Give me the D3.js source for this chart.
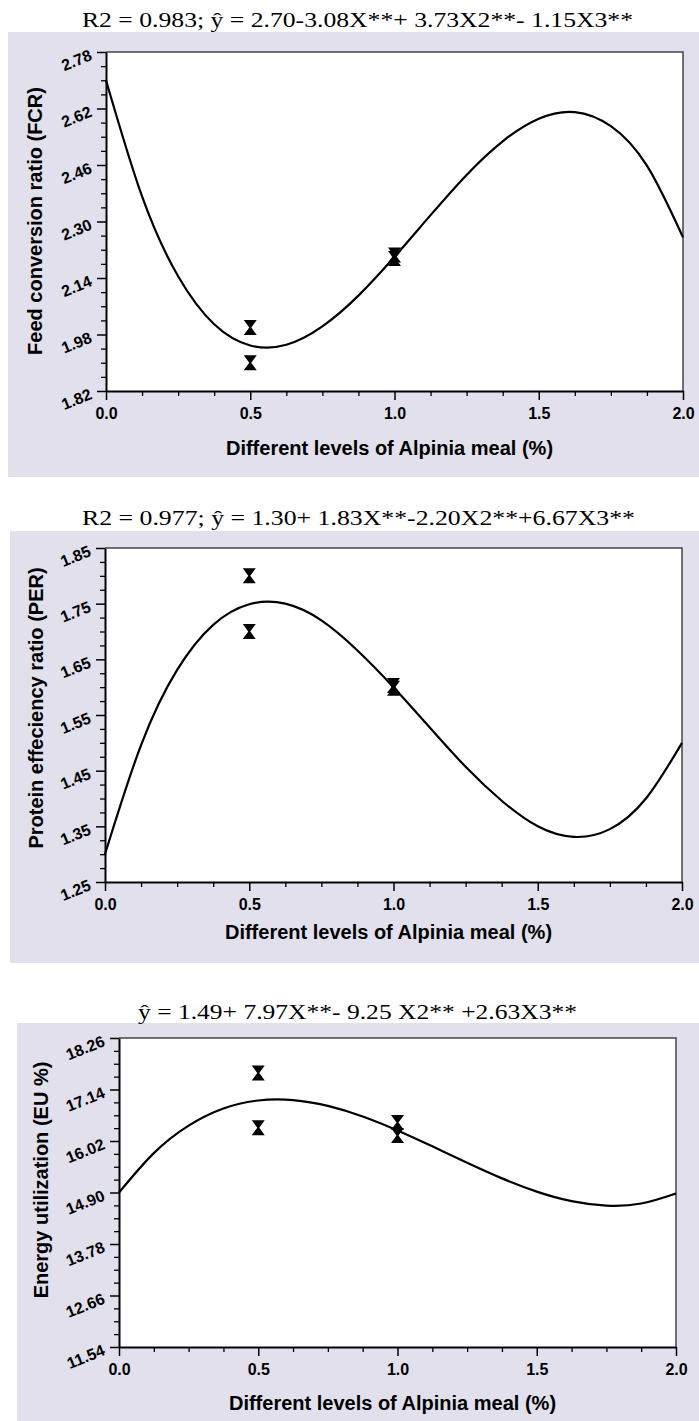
<!DOCTYPE html>
<html>
<head>
<meta charset="utf-8">
<script src="https://cdn.jsdelivr.net/npm/d3@7"></script>
<style>
  body { margin: 0; background: #ffffff; }
  text { fill: #000; }
</style>
</head>
<body>
<script>
// alpinia meal level (%) where the fitted curve was read
const curveX = [0, 0.125, 0.25, 0.375, 0.5, 0.625, 0.75, 0.875, 1.0, 1.125, 1.25, 1.375, 1.5, 1.625, 1.75, 1.875, 2.0];

// fitted curves
const fcrCurve = [2.700, 2.371, 2.145, 2.009, 1.949, 1.951, 2.003, 2.090, 2.200, 2.318, 2.432, 2.527, 2.591, 2.610, 2.570, 2.458, 2.255];
const perCurve = [1.300, 1.496, 1.631, 1.712, 1.749, 1.750, 1.720, 1.666, 1.600, 1.528, 1.457, 1.396, 1.350, 1.331, 1.345, 1.400, 1.500];
const euCurve = [14.900, 15.757, 16.355, 16.727, 16.901, 16.910, 16.784, 16.554, 16.250, 15.904, 15.546, 15.207, 14.919, 14.711, 14.615, 14.661, 14.880];

// observed points
const obsX = [0.5, 0.5, 1.0, 1.0];
const fcrObs = [2.00, 1.90, 2.205, 2.195];
const perObs = [1.80, 1.70, 1.603, 1.598];
const euObs = [17.50, 16.31, 16.42, 16.14];

// tick labels
const xTicks = [0, 0.5, 1.0, 1.5, 2.0];
const fcrTicks = [1.82, 1.98, 2.14, 2.30, 2.46, 2.62, 2.78];
const perTicks = [1.25, 1.35, 1.45, 1.55, 1.65, 1.75, 1.85];
const euTicks = [11.54, 12.66, 13.78, 14.90, 16.02, 17.14, 18.26];

const titles = [
    "R2 = 0.983;  \u0177 = 2.70-3.08X**+ 3.73X2**- 1.15X3**",
    "R2 = 0.977;  \u0177 = 1.30+ 1.83X**-2.20X2**+6.67X3**",
    "\u0177 = 1.49+ 7.97X**- 9.25 X2** +2.63X3**"
];
const yTitles = ["Feed conversion ratio (FCR)", "Protein effeciency ratio (PER)", "Energy utilization (EU %)"];
const xTitle = "Different levels of Alpinia meal (%)";

const svg = d3.select("body").append("svg").attr("width", 699).attr("height", 1421);

function drawPanel(p) {
    const g = svg.append("g");
    g.append("rect").attr("x", p.bg[0]).attr("y", p.bg[1]).attr("width", p.bg[2]).attr("height", p.bg[3]).attr("fill", "#e1e0ec");
    g.append("rect").attr("x", p.l).attr("y", p.t).attr("width", p.r - p.l).attr("height", p.b - p.t).attr("fill", "#fff");

    // title above the grey box
    g.append("text")
        .attr("x", p.titleX[0]).attr("y", p.titleY)
        .attr("textLength", p.titleX[1] - p.titleX[0]).attr("lengthAdjust", "spacingAndGlyphs")
        .attr("font-family", "'Liberation Serif', 'Times New Roman', serif").attr("font-size", 22)
        .text(p.title);

    const x = d3.scaleLinear().domain([0, 2]).range([p.l, p.r]);
    const y = d3.scaleLinear().domain([p.yTicks[0], p.yTicks[p.yTicks.length - 1]]).range([p.b, p.t]);

    // frame top/right
    g.append("path").attr("d", `M${p.l},${p.t}H${p.r}V${p.b}`).attr("fill", "none").attr("stroke", "#444").attr("stroke-width", 1.5);

    // minor ticks
    const yStep = (p.yTicks[1] - p.yTicks[0]) / 4;
    const yMinor = d3.range(1, (p.yTicks.length - 1) * 4).filter(i => i % 4 != 0).map(i => p.yTicks[0] + i * yStep);
    const xMinor = d3.range(1, 16).filter(i => i % 4 != 0).map(i => i * 0.125);
    g.append("g").attr("transform", `translate(${p.l},0)`)
        .call(d3.axisLeft(y).tickValues(yMinor).tickSize(5).tickFormat(""))
        .call(a => a.select(".domain").remove())
        .selectAll("line").attr("stroke", "#000").attr("stroke-width", 1.3);
    g.append("g").attr("transform", `translate(0,${p.b})`)
        .call(d3.axisBottom(x).tickValues(xMinor).tickSize(5).tickFormat(""))
        .call(a => a.select(".domain").remove())
        .selectAll("line").attr("stroke", "#000").attr("stroke-width", 1.3);

    // major y axis
    const ya = g.append("g").attr("transform", `translate(${p.l},0)`)
        .call(d3.axisLeft(y).tickValues(p.yTicks).tickSize(9).tickSizeOuter(0).tickFormat(d3.format(".2f")))
        .attr("font-family", "'Liberation Sans', Arial, sans-serif").attr("font-size", 16).attr("font-weight", "bold");
    ya.select(".domain").attr("stroke", "#000").attr("stroke-width", 2);
    ya.selectAll("line").attr("stroke", "#000").attr("stroke-width", 1.5);
    ya.selectAll("text")
        .attr("x", null).attr("dy", null)
        .attr("text-anchor", "end")
        .attr("transform", "translate(-13,7) rotate(-22)");

    // major x axis
    const xa = g.append("g").attr("transform", `translate(0,${p.b})`)
        .call(d3.axisBottom(x).tickValues(xTicks).tickSize(9).tickSizeOuter(0).tickFormat(d3.format(".1f")))
        .attr("font-family", "'Liberation Sans', Arial, sans-serif").attr("font-size", 16).attr("font-weight", "bold");
    xa.select(".domain").attr("stroke", "#000").attr("stroke-width", 2);
    xa.selectAll("line").attr("stroke", "#000").attr("stroke-width", 1.5);
    xa.selectAll("text").attr("y", 28).attr("dy", null);

    // axis titles
    g.append("text").attr("x", (p.l + p.r) / 2 - 5).attr("y", p.xTitleY).attr("text-anchor", "middle")
        .attr("font-family", "'Liberation Sans', Arial, sans-serif").attr("font-size", 20).attr("font-weight", "bold")
        .text(xTitle);
    g.append("text").attr("transform", `translate(${p.yTitleX},${p.yTitleMid}) rotate(-90)`).attr("text-anchor", "middle")
        .attr("font-family", "'Liberation Sans', Arial, sans-serif").attr("font-size", 20).attr("font-weight", "bold")
        .text(p.yTitle);

    // fitted curve
    const line = d3.line().x(d => x(d[0])).y(d => y(d[1])).curve(d3.curveNatural);
    g.append("path").datum(d3.zip(curveX, p.curve)).attr("d", line)
        .attr("fill", "none").attr("stroke", "#000").attr("stroke-width", 2.2);

    // hourglass markers
    g.selectAll(".pt").data(d3.zip(obsX, p.obs)).enter().append("path")
        .attr("class", "pt")
        .attr("transform", d => `translate(${x(d[0])},${y(d[1])})`)
        .attr("d", "M-6.5,-7.5H6.5L1,0L6.5,7.5H-6.5L-1,0Z")
        .attr("fill", "#000");
}

drawPanel({ bg: [8, 32, 691, 445], l: 106, t: 52, r: 683, b: 391, title: titles[0], titleX: [82, 633], titleY: 27,
    yTicks: fcrTicks, curve: fcrCurve, obs: fcrObs, yTitle: yTitles[0], yTitleX: 42, yTitleMid: 221, xTitleY: 455 });
drawPanel({ bg: [10, 531, 689, 432], l: 105, t: 548, r: 682, b: 882, title: titles[1], titleX: [82, 635], titleY: 525,
    yTicks: perTicks, curve: perCurve, obs: perObs, yTitle: yTitles[1], yTitleX: 43, yTitleMid: 708, xTitleY: 939 });
drawPanel({ bg: [17, 1023, 682, 398], l: 119, t: 1038, r: 676, b: 1347, title: titles[2], titleX: [138, 577], titleY: 1019,
    yTicks: euTicks, curve: euCurve, obs: euObs, yTitle: yTitles[2], yTitleX: 48, yTitleMid: 1180, xTitleY: 1410 });
</script>
</body>
</html>
